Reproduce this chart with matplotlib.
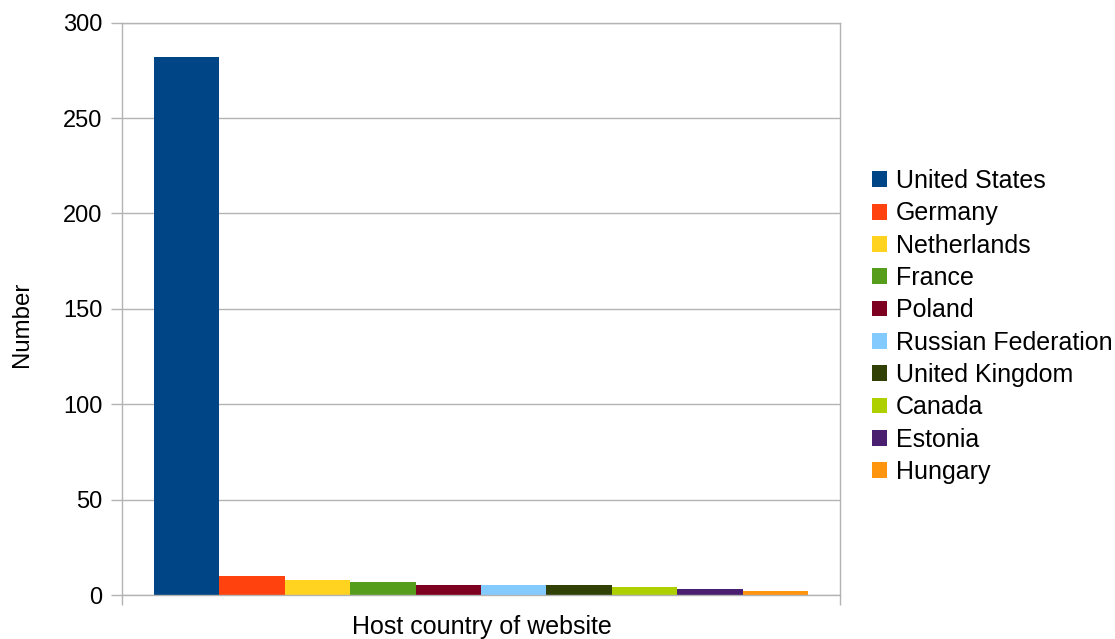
import matplotlib
matplotlib.use("Agg")
import matplotlib.pyplot as plt
from matplotlib.patches import Rectangle

countries = ["United States", "Germany", "Netherlands", "France", "Poland",
             "Russian Federation", "United Kingdom", "Canada", "Estonia", "Hungary"]
values = [282, 10, 8, 7, 5, 5, 5, 4, 3, 2]
colors = ["#004586", "#ff420e", "#ffd320", "#579d1c", "#7e0021",
          "#83caff", "#314004", "#aecf00", "#4b1f6f", "#ff950e"]
yticks = [0, 50, 100, 150, 200, 250, 300]
xlabel = "Host country of website"
ylabel = "Number"

plt.rcParams['font.family'] = ['Liberation Sans', 'DejaVu Sans']
W, H = 1115, 639
fig = plt.figure(figsize=(W / 100, H / 100), dpi=100)
left, right, top, bottom = 122, 840, 22.7, 595
ax = fig.add_axes([left / W, 1 - bottom / H, (right - left) / W, (bottom - top) / H])

gray = "#b3b3b3"
n = len(values)
group = 654 / 718
bw = group / n
start = -group / 2
xs = [start + bw * (i + 0.5) for i in range(n)]
ax.bar(xs, values, width=bw, color=colors, linewidth=0, zorder=3)

ax.set_xlim(-0.5, 0.5)
ax.set_ylim(0, 300)
ax.set_yticks(yticks)
ax.set_yticklabels([str(v) for v in yticks], fontsize=17)
ax.set_xticks([-0.5, 0.5])
ax.set_xticklabels([])
ax.yaxis.grid(True, color=gray, linewidth=1.0, zorder=0)
ax.tick_params(axis='y', length=8, width=1.0, color=gray, pad=6)
ax.tick_params(axis='x', length=7.5, width=1.0, color=gray)
for s in ['left', 'right', 'bottom', 'top']:
    ax.spines[s].set_color(gray)
    ax.spines[s].set_linewidth(1.0)
ax.spines['bottom'].set_zorder(4)

fig.text(481.5 / W, 1 - 634 / H, xlabel, ha='center', va='baseline', fontsize=18)
fig.text(28.3 / W, 1 - 324 / H, ylabel, ha='center', va='baseline', rotation=90,
         rotation_mode='anchor', fontsize=17.3)

handles = [Rectangle((0, 0), 1, 1, facecolor=c, edgecolor='none') for c in colors]
fs = 18
em = fs * 100 / 72
leg = fig.legend(handles, countries, loc='center left',
                 bbox_to_anchor=(872 / W, 1 - 326.5 / H), frameon=False,
                 fontsize=fs, handlelength=15 / em, handleheight=15 / em,
                 handletextpad=9 / em, labelspacing=0.332, borderpad=0,
                 borderaxespad=0)

fig.savefig("out.png", dpi=100)
